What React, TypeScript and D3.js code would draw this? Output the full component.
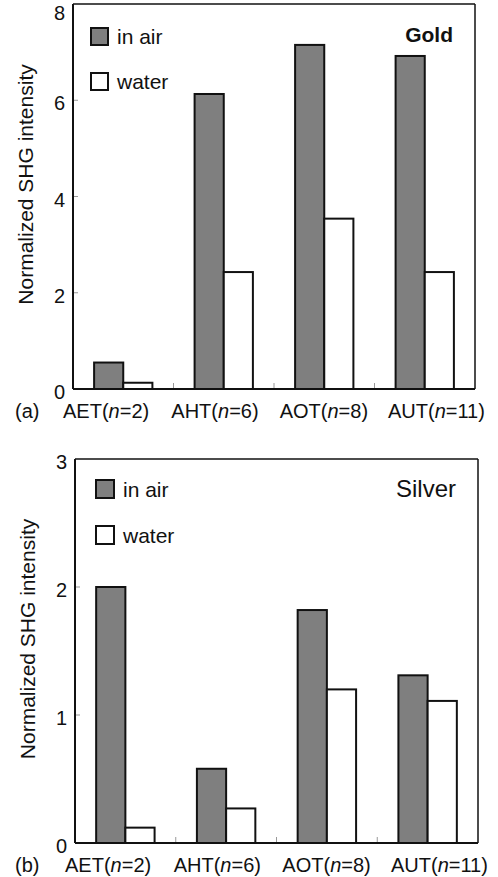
import React from 'react';
import * as d3 from 'd3';

// Normalized SHG intensity of alkanethiol monolayers, in air and in water
const categories = ['AET', 'AHT', 'AOT', 'AUT'];
const chainLengths = [2, 6, 8, 11];
const seriesNames = ['in air', 'water'];

const goldAir = [0.55, 6.13, 7.15, 6.92];
const goldWater = [0.13, 2.43, 3.54, 2.43];
const goldTicks = [0, 2, 4, 6, 8];

const silverAir = [2.0, 0.58, 1.82, 1.31];
const silverWater = [0.12, 0.27, 1.2, 1.11];
const silverTicks = [0, 1, 2, 3];

const FONT = '"Liberation Sans", Arial, Helvetica, sans-serif';
const AIR_FILL = '#7f7f7f';
const INK = '#111';

type Frame = { left: number; right: number; top: number; bottom: number };

type PanelProps = {
  frame: Frame;
  ticks: number[];
  air: number[];
  water: number[];
  tag: string;
  metal: string;
  metalBold: boolean;
  metalSize: number;
  swatch: number;
  legendDx: number;
  legendDy: number;
  legendGap: number;
};

function Panel(p: PanelProps) {
  const { left, right, top, bottom } = p.frame;
  const yMax = d3.max(p.ticks) as number;
  const x = d3
    .scaleBand<string>()
    .domain(categories)
    .range([left, right])
    .paddingInner(0.42)
    .paddingOuter(0.21);
  const xs = d3.scaleBand<string>().domain(seriesNames).range([0, x.bandwidth()]);
  const y = d3.scaleLinear().domain([0, yMax]).range([bottom, top]);
  const labelX = d3.scalePoint<string>().domain(categories).range([left - 10, right - 87]);

  const rows = categories.map((c, i) => ({ c, vals: [p.air[i], p.water[i]] }));
  const boundaries = categories.slice(1).map((c, i) => {
    const prev = categories[i];
    return ((x(prev) as number) + x.bandwidth() + (x(c) as number)) / 2;
  });

  const legendX = left + p.legendDx;
  const legendY = top + p.legendDy;

  return (
    <g fontFamily={FONT} fill={INK}>
      {/* plot frame */}
      <line x1={left} x2={right} y1={top} y2={top} stroke={INK} strokeWidth={1.5} />
      <line x1={right} x2={right} y1={top} y2={bottom} stroke={INK} strokeWidth={1.5} />

      {/* inner tick marks */}
      {p.ticks
        .filter((t) => t > 0 && t < yMax)
        .map((t) => (
          <line key={'yt' + t} x1={left} x2={left + 5} y1={y(t)} y2={y(t)} stroke="#999" strokeWidth={1} />
        ))}
      {boundaries.map((bx, i) => (
        <line key={'xt' + i} x1={bx} x2={bx} y1={bottom} y2={bottom - 6} stroke="#999" strokeWidth={1} />
      ))}

      {/* bars */}
      {rows.map((r) =>
        r.vals.map((v, j) => (
          <rect
            key={r.c + j}
            x={(x(r.c) as number) + (xs(seriesNames[j]) as number)}
            y={y(v)}
            width={xs.bandwidth()}
            height={bottom - y(v)}
            fill={j === 0 ? AIR_FILL : '#fff'}
            stroke={INK}
            strokeWidth={2}
          />
        ))
      )}

      {/* axes */}
      <line x1={left} x2={left} y1={top} y2={bottom} stroke={INK} strokeWidth={2} />
      <line x1={left} x2={right} y1={bottom} y2={bottom} stroke={INK} strokeWidth={2} />

      {/* y tick labels */}
      {p.ticks.map((t) => (
        <text key={'yl' + t} x={left - 8} y={Math.max(y(t) + 3, 13)} dy="0.35em" textAnchor="end" fontSize={20}>
          {t}
        </text>
      ))}

      {/* y axis title */}
      <text
        transform={`translate(${left - 40},${(top + bottom) / 2 - 12}) rotate(-90)`}
        textAnchor="middle"
        fontSize={21}
      >
        Normalized SHG intensity
      </text>

      {/* category labels */}
      {categories.map((c, i) => (
        <text key={'xl' + c} x={labelX(c)} y={bottom + 29} fontSize={20}>
          {c}(<tspan fontStyle="italic">n</tspan>={chainLengths[i]})
        </text>
      ))}
      <text x={15} y={bottom + 29} fontSize={20}>
        {p.tag}
      </text>

      {/* legend */}
      {seriesNames.map((s, j) => (
        <g key={'lg' + s} transform={`translate(${legendX},${legendY + j * p.legendGap})`}>
          <rect
            width={p.swatch}
            height={p.swatch}
            fill={j === 0 ? AIR_FILL : '#fff'}
            stroke={INK}
            strokeWidth={2}
          />
          <text x={p.swatch + 9} y={p.swatch - 1} fontSize={21}>
            {s}
          </text>
        </g>
      ))}

      {/* metal label */}
      <text
        x={right - 22}
        y={top + 38}
        textAnchor="end"
        fontSize={p.metalSize}
        fontWeight={p.metalBold ? 'bold' : 'normal'}
      >
        {p.metal}
      </text>
    </g>
  );
}

export default function App() {
  return (
    <svg
      width={498}
      height={877}
      style={{ position: 'absolute', left: 0, top: 0, background: '#fff' }}
    >
      <rect width={498} height={877} fill="#fff" />
      <Panel
        frame={{ left: 73, right: 475, top: 4, bottom: 389 }}
        ticks={goldTicks}
        air={goldAir}
        water={goldWater}
        tag="(a)"
        metal="Gold"
        metalBold={true}
        metalSize={21}
        swatch={17}
        legendDx={18}
        legendDy={24}
        legendGap={45}
      />
      <Panel
        frame={{ left: 75, right: 478, top: 459, bottom: 843 }}
        ticks={silverTicks}
        air={silverAir}
        water={silverWater}
        tag="(b)"
        metal="Silver"
        metalBold={false}
        metalSize={24}
        swatch={18}
        legendDx={21}
        legendDy={21}
        legendGap={46}
      />
    </svg>
  );
}
